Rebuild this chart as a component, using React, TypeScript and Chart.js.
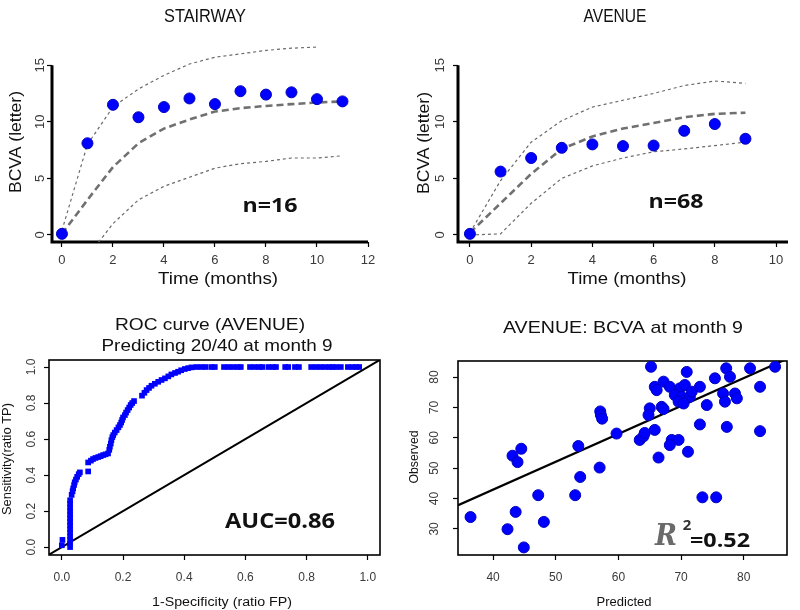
import React, { useEffect, useRef } from "react";
import { Chart, registerables } from "chart.js";
Chart.register(...registerables);

// ---------- Panel 1: STAIRWAY ----------
const months1 = [0, 1, 2, 3, 4, 5, 6, 7, 8, 9, 10, 11];
const observed1 = [0.1, 8.1, 11.5, 10.4, 11.3, 12.06, 11.56, 12.7, 12.4, 12.6, 12.0, 11.8];
const predicted1 = [0.1, 3.1, 6.0, 8.1, 9.4, 10.2, 10.9, 11.2, 11.4, 11.56, 11.7, 11.8];
const upper1 = [0.4, 8.0, 11.3, 12.9, 14.1, 15.1, 15.7, 16.0, 16.3, 16.5, 16.6, null];
const lower1 = [null, -1.9, 1.0, 3.1, 4.3, 5.1, 5.9, 6.3, 6.5, 6.8, 6.8, 7.0];
const xTicks1 = [0, 2, 4, 6, 8, 10, 12];

// ---------- Panel 2: AVENUE ----------
const months2 = [0, 1, 2, 3, 4, 5, 6, 7, 8, 9];
const observed2 = [0.1, 5.6, 6.8, 7.7, 8.0, 7.85, 7.9, 9.2, 9.8, 8.5];
const predicted2 = [0.2, 2.8, 5.4, 7.6, 8.7, 9.4, 9.9, 10.4, 10.7, 10.8];
const upper2 = [0.2, 4.8, 8.2, 10.1, 11.3, 11.9, 12.5, 13.2, 13.6, 13.4];
const lower2 = [0.0, 0.1, 2.8, 5.0, 6.1, 6.8, 7.35, 7.6, 7.9, 8.2];
const xTicks2 = [0, 2, 4, 6, 8, 10];
const bcvaTicks = [0, 5, 10, 15];

// ---------- Panel 3: ROC ----------
const rocFpr = [
  0.0, 0.002,
  0.027, 0.027, 0.027, 0.027, 0.027, 0.027, 0.027, 0.027, 0.027, 0.027, 0.027, 0.027, 0.027, 0.027,
  0.032, 0.035, 0.037, 0.04, 0.042, 0.046, 0.05, 0.055, 0.059,
  0.086, 0.086, 0.095, 0.102, 0.11, 0.119, 0.127, 0.135, 0.143, 0.151,
  0.155, 0.157, 0.16, 0.162, 0.165, 0.168, 0.173, 0.179, 0.185, 0.19, 0.194, 0.197, 0.2, 0.206, 0.21, 0.215, 0.22, 0.225, 0.23, 0.236,
  0.262, 0.27, 0.277, 0.285, 0.293, 0.304, 0.315, 0.326, 0.337, 0.348, 0.358, 0.37, 0.38, 0.39, 0.402, 0.413, 0.424, 0.44, 0.456, 0.47, 0.489,
  0.5, 0.53, 0.545, 0.56, 0.575, 0.585, 0.615, 0.63, 0.645, 0.655, 0.675, 0.69, 0.7, 0.73, 0.74, 0.762, 0.775, 0.815, 0.83, 0.845, 0.86, 0.875, 0.885, 0.897, 0.912, 0.935, 0.95, 0.962, 0.972,
];
const rocTpr = [
  0.01, 0.04,
  0.0, 0.02, 0.04, 0.06, 0.08, 0.1, 0.12, 0.14, 0.16, 0.18, 0.2, 0.22, 0.24, 0.26,
  0.29, 0.31, 0.326, 0.345, 0.36, 0.375, 0.39, 0.405, 0.415,
  0.42, 0.47, 0.48, 0.489, 0.495, 0.5, 0.505, 0.511, 0.515, 0.52,
  0.54, 0.557, 0.575, 0.594, 0.61, 0.622, 0.636, 0.65, 0.665, 0.678, 0.692, 0.706, 0.72, 0.733, 0.747, 0.761, 0.775, 0.789, 0.8, 0.811,
  0.841, 0.857, 0.872, 0.884, 0.896, 0.907, 0.918, 0.928, 0.937, 0.948, 0.959, 0.967, 0.974, 0.982, 0.989, 0.994, 0.998, 1.0, 1.0, 1.0, 1.0,
  1, 1, 1, 1, 1, 1, 1, 1, 1, 1, 1, 1, 1, 1, 1, 1, 1, 1, 1, 1, 1, 1, 1, 1, 1, 1, 1, 1, 1,
];
const chanceX = [-0.05, 1.05];
const chanceY = [-0.05, 1.05];
const rocTicks = [0, 0.2, 0.4, 0.6, 0.8, 1.0];

// ---------- Panel 4: Predicted vs Observed ----------
const predictedBCVA = [
  36.4, 42.3, 43.6, 43.1, 43.9, 44.5, 44.9, 47.2, 48.1, 53.1, 53.6, 53.9, 57.0, 57.1, 57.2, 57.4,
  59.7, 63.4, 64.0, 64.2, 65.2, 65.0, 64.8, 65.8, 66.1, 67.2, 65.8, 66.4, 66.9, 67.2, 68.2, 69.8,
  70.6, 69.0, 70.1, 69.6, 71.4, 71.7, 70.4, 70.9, 73.0, 74.1, 73.0, 68.5, 69.6, 68.2, 71.1, 73.4,
  75.4, 75.6, 76.7, 77.0, 77.2, 77.8, 77.3, 78.6, 78.9, 81.0, 82.6, 82.6, 85.0,
];
const observedBCVA = [
  33.9, 29.9, 35.6, 54.1, 52.0, 56.4, 23.9, 41.1, 32.3, 41.1, 57.3, 47.1, 50.2, 68.7, 67.5, 66.3,
  61.4, 59.3, 60.5, 61.6, 83.4, 69.7, 67.5, 76.8, 75.7, 78.5, 62.6, 53.5, 70.2, 69.5, 76.8, 76.3,
  77.4, 74.1, 73.5, 71.9, 73.5, 75.2, 71.3, 81.7, 76.8, 70.8, 64.4, 59.3, 59.3, 57.6, 55.4, 40.4,
  79.6, 40.4, 74.6, 71.9, 82.9, 80.1, 63.6, 74.6, 73.0, 82.9, 76.8, 62.2, 83.4,
];
const fitX = [34, 87];
const fitY = [37.4, 86.1];
const predTicks = [40, 50, 60, 70, 80];
const obsTicks = [30, 40, 50, 60, 70, 80];

// ---------- helpers ----------
type Txt = {
  s: string; x: number; y: number; size: number; font?: string; bold?: boolean; italic?: boolean;
  color?: string; w?: number; rot?: boolean; align?: CanvasTextAlign; base?: CanvasTextBaseline;
};

function drawText(ctx: CanvasRenderingContext2D, t: Txt) {
  ctx.save();
  ctx.font = `${t.italic ? "italic " : ""}${t.bold ? "bold " : ""}${t.size}px ${t.font ?? '"Liberation Sans"'}`;
  ctx.fillStyle = t.color ?? "#111";
  ctx.textAlign = t.align ?? "center";
  ctx.textBaseline = t.base ?? "alphabetic";
  ctx.translate(t.x, t.y);
  if (t.rot) ctx.rotate(-Math.PI / 2);
  if (t.w) {
    const m = ctx.measureText(t.s).width;
    if (m > 0) ctx.scale(t.w / m, 1);
  }
  ctx.fillText(t.s, 0, 0);
  ctx.restore();
}

const pts = (xs: number[], ys: (number | null)[]) =>
  xs.map((x, i) => ({ x, y: ys[i] })).filter((p) => p.y !== null && p.y !== undefined) as { x: number; y: number }[];

function linScale(min: number, max: number, ticks: number[]) {
  return {
    type: "linear" as const,
    min,
    max,
    afterBuildTicks: (s: any) => {
      s.ticks = ticks.map((v) => ({ value: v }));
    },
    afterFit: (s: any) => {
      if (s.isHorizontal()) s.height = 10;
      else s.width = 10;
    },
    ticks: { display: false },
    grid: { display: true, drawOnChartArea: false, drawTicks: true, tickLength: 5, tickWidth: 1.2, tickColor: "#000" },
    border: { display: false },
  };
}

type PanelCfg = {
  key: string;
  area: { L: number; R: number; T: number; B: number };
  x: { min: number; max: number; ticks: number[]; fmt: (v: number) => string; labelY: number };
  y: { min: number; max: number; ticks: number[]; fmt: (v: number) => string; labelX: number };
  box: boolean;
  tickSize: number;
  datasets: any[];
  texts: Txt[];
};

const blue = "#0000ff";

const bcvaDatasets = (m: number[], obs: number[], pred: number[], up: (number | null)[], lo: (number | null)[]) => [
  {
    data: pts(m, obs), showLine: false, pointRadius: 5.5, pointBackgroundColor: blue,
    pointBorderColor: "#0000c0", pointBorderWidth: 1,
  },
  {
    data: pts(m, pred), showLine: true, pointRadius: 0, borderColor: "#707070", borderWidth: 2.6,
    borderDash: [7, 4], tension: 0,
  },
  { data: pts(m, up), showLine: true, pointRadius: 0, borderColor: "#6a6a6a", borderWidth: 1.2, borderDash: [3, 3] },
  { data: pts(m, lo), showLine: true, pointRadius: 0, borderColor: "#6a6a6a", borderWidth: 1.2, borderDash: [3, 3] },
];

const intFmt = (v: number) => String(v);
const oneDec = (v: number) => v.toFixed(1);

const panels: PanelCfg[] = [
  {
    key: "stairway",
    area: { L: 52, R: 368, T: 38, B: 242 },
    x: { min: -0.39, max: 12.0, ticks: xTicks1, fmt: intFmt, labelY: 260 },
    y: { min: -0.62, max: 17.4, ticks: bcvaTicks, fmt: intFmt, labelX: 40 },
    box: false,
    tickSize: 13,
    datasets: bcvaDatasets(months1, observed1, predicted1, upper1, lower1),
    texts: [
      { s: "STAIRWAY", x: 205, y: 22, size: 19, w: 82 },
      { s: "BCVA (letter)", x: 17, y: 142, size: 16, w: 102, rot: true, base: "middle" },
      { s: "Time (months)", x: 218, y: 284, size: 16, w: 120 },
      { s: "n=16", x: 270, y: 212, size: 19, bold: true, font: '"Open Sans"', w: 55 },
    ],
  },
  {
    key: "avenue",
    area: { L: 458, R: 788, T: 38, B: 242 },
    x: { min: -0.39, max: 10.39, ticks: xTicks2, fmt: intFmt, labelY: 260 },
    y: { min: -0.62, max: 17.4, ticks: bcvaTicks, fmt: intFmt, labelX: 440 },
    box: false,
    tickSize: 13,
    datasets: bcvaDatasets(months2, observed2, predicted2, upper2, lower2),
    texts: [
      { s: "AVENUE", x: 615, y: 22, size: 19, w: 63 },
      { s: "BCVA (letter)", x: 425, y: 143, size: 16, w: 102, rot: true, base: "middle" },
      { s: "Time (months)", x: 627, y: 284, size: 16, w: 119 },
      { s: "n=68", x: 676, y: 208, size: 19, bold: true, font: '"Open Sans"', w: 55 },
    ],
  },
  {
    key: "roc",
    area: { L: 49, R: 380, T: 360, B: 555 },
    x: { min: -0.042, max: 1.04, ticks: rocTicks, fmt: oneDec, labelY: 577.5 },
    y: { min: -0.044, max: 1.039, ticks: rocTicks, fmt: oneDec, labelX: 32 },
    box: true,
    tickSize: 12,
    datasets: [
      {
        data: pts(rocFpr, rocTpr), showLine: false, pointStyle: "rect", pointRadius: 4,
        pointBackgroundColor: blue, pointBorderWidth: 0,
      },
      { data: pts(chanceX, chanceY), showLine: true, pointRadius: 0, borderColor: "#000", borderWidth: 2 },
    ],
    texts: [
      { s: "ROC curve (AVENUE)", x: 210, y: 330, size: 17, w: 190 },
      { s: "Predicting 20/40 at month 9", x: 217, y: 351, size: 17, w: 231 },
      { s: "Sensitivity(ratio TP)", x: 8, y: 459, size: 12, w: 112, rot: true, base: "middle" },
      { s: "1-Specificity (ratio FP)", x: 222, y: 606, size: 12, w: 140 },
      { s: "AUC=0.86", x: 280, y: 528, size: 21, bold: true, font: '"Open Sans"', w: 110 },
    ],
  },
  {
    key: "scatter",
    area: { L: 458, R: 787, T: 361, B: 555 },
    x: { min: 34.4, max: 86.9, ticks: predTicks, fmt: intFmt, labelY: 577.5 },
    y: { min: 21.4, max: 85.3, ticks: obsTicks, fmt: intFmt, labelX: 435 },
    box: true,
    tickSize: 12,
    datasets: [
      {
        data: pts(predictedBCVA, observedBCVA), showLine: false, pointRadius: 5.5,
        pointBackgroundColor: blue, pointBorderColor: "#0000c0", pointBorderWidth: 1,
      },
      { data: pts(fitX, fitY), showLine: true, pointRadius: 0, borderColor: "#000", borderWidth: 2.2 },
    ],
    texts: [
      { s: "AVENUE: BCVA at month 9", x: 623, y: 333, size: 17, w: 240 },
      { s: "Observed", x: 415, y: 457, size: 12, w: 53, rot: true, base: "middle" },
      { s: "Predicted", x: 624, y: 606, size: 12, w: 55 },
      { s: "R", x: 666, y: 545, size: 30, bold: true, italic: true, font: '"DejaVu Serif"', color: "#6a6a6a", w: 22 },
      { s: "2", x: 687, y: 530, size: 15, bold: true, font: '"Open Sans"', color: "#333" },
      { s: "=0.52", x: 720, y: 547, size: 19, bold: true, font: '"Open Sans"', w: 60 },
    ],
  },
];

function buildConfig(cfg: PanelCfg): any {
  const { L, R, T, B } = cfg.area;
  const decor = {
    id: "decor_" + cfg.key,
    beforeDatasetsDraw(chart: any) {
      const ctx: CanvasRenderingContext2D = chart.ctx;
      const a = chart.chartArea;
      const ys = chart.scales.y;
      ctx.save();
      ctx.strokeStyle = "#000";
      if (cfg.box) {
        ctx.lineWidth = 1.6;
        ctx.strokeRect(a.left, a.top, a.right - a.left, a.bottom - a.top);
      } else {
        ctx.lineWidth = 3;
        const yTop = ys.getPixelForValue(cfg.y.ticks[cfg.y.ticks.length - 1]);
        ctx.beginPath();
        ctx.moveTo(a.left, yTop);
        ctx.lineTo(a.left, a.bottom + 1.5);
        ctx.moveTo(a.left - 1.5, a.bottom);
        ctx.lineTo(a.right, a.bottom);
        ctx.stroke();
      }
      ctx.restore();
    },
    afterDraw(chart: any) {
      const ctx: CanvasRenderingContext2D = chart.ctx;
      const xs = chart.scales.x;
      const ys = chart.scales.y;
      xs.ticks.forEach((t: any) => {
        drawText(ctx, {
          s: cfg.x.fmt(t.value), x: xs.getPixelForValue(t.value), y: cfg.x.labelY,
          size: cfg.tickSize, color: "#3a3a3a", base: "middle",
        });
      });
      ys.ticks.forEach((t: any) => {
        drawText(ctx, {
          s: cfg.y.fmt(t.value), x: cfg.y.labelX, y: ys.getPixelForValue(t.value),
          size: cfg.tickSize, color: "#3a3a3a", base: "middle", rot: true,
        });
      });
      cfg.texts.forEach((t) => drawText(ctx, t));
    },
  };
  return {
    type: "scatter",
    data: { datasets: cfg.datasets },
    options: {
      animation: false,
      responsive: false,
      devicePixelRatio: 1,
      events: [],
      layout: { padding: { left: L - 10, right: 800 - R, top: T, bottom: 610 - B - 10 } },
      plugins: { legend: { display: false }, tooltip: { enabled: false }, title: { display: false } },
      scales: {
        x: linScale(cfg.x.min, cfg.x.max, cfg.x.ticks),
        y: linScale(cfg.y.min, cfg.y.max, cfg.y.ticks),
      },
    },
    plugins: [decor],
  };
}

function Panel({ cfg }: { cfg: PanelCfg }) {
  const ref = useRef<HTMLCanvasElement | null>(null);
  useEffect(() => {
    if (!ref.current) return;
    const chart = new Chart(ref.current, buildConfig(cfg));
    return () => chart.destroy();
  }, [cfg]);
  return (
    <canvas
      ref={ref}
      width={800}
      height={610}
      style={{ position: "absolute", left: 0, top: 0, width: 800, height: 610 }}
    />
  );
}

export default function App() {
  return (
    <div
      style={{
        position: "absolute", left: 0, top: 0, width: 800, height: 610,
        background: "#fff", overflow: "hidden",
      }}
    >
      {panels.map((p) => (
        <Panel key={p.key} cfg={p} />
      ))}
    </div>
  );
}
